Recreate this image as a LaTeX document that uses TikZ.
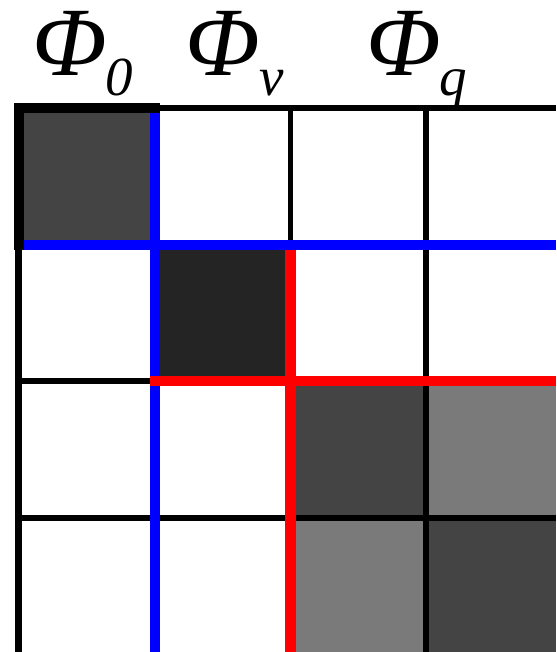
\documentclass[tikz,border=0pt]{standalone}
\usepackage{fontspec}
\setmainfont{Liberation Serif}
\usepackage{xcolor}
\usepackage{tikz}
\usetikzlibrary{positioning}
\definecolor{cellA}{HTML}{444444}
\definecolor{cellB}{HTML}{242424}
\definecolor{cellC}{HTML}{7A7A7A}
\definecolor{gridblue}{HTML}{0000FF}
\definecolor{gridred}{HTML}{FF0000}
\tikzset{
  thin/.style={draw=black, line width=6.5pt},
  heavy/.style={draw=black, line width=10pt, line join=miter},
  bl/.style={draw=gridblue, line width=10pt},
  rd/.style={draw=gridred, line width=10.5pt},
  phi/.style={inner sep=0pt, anchor=base, text height=0.62em, text depth=0pt,
              font=\fontsize{98}{102}\selectfont\itshape},
  subs/.style={inner sep=0pt, anchor=base, font=\fontsize{55}{60}\selectfont\itshape},
}
\begin{document}
\begin{tikzpicture}[x=1pt, y=-1pt]
  \useasboundingbox (0,0) rectangle (556,652);
  \clip (0,0) rectangle (556,652);

  % cellen
  \foreach \xa/\ya/\xb/\yb/\c in {19/108/155/245/cellA, 155/245/290.5/381/cellB,
      290.5/381/426/518/cellA, 426/381/556/518/cellC,
      290.5/518/426/652/cellC, 426/518/556/652/cellA}
    \fill[\c] (\xa,\ya) rectangle (\xb,\yb);

  % dunne rasterlijnen
  \draw[thin] (19,108) -- (556,108);
  \draw[thin] (19,381) -- (155,381);
  \draw[thin] (19,518) -- (556,518);
  \draw[thin, line width=5.5pt] (290.5,108) -- (290.5,245);
  \draw[thin, line width=5.5pt] (426,108) -- (426,652);
  \draw[thin, line width=7pt] (18.5,108) -- (18.5,652);

  % dikke rand linksboven
  \draw[heavy] (19,250) -- (19,108) -- (160,108);

  % blauw en rood
  \draw[bl] (24,245) -- (556,245);
  \draw[bl] (155,113) -- (155,652);
  \draw[rd] (150,381) -- (556,381);
  \draw[rd] (290.5,250) -- (290.5,652);

  % labels
  \node[phi]  (phi0) at (70,76)    {Φ};
  \node[subs] (sub0) at (119,96)   {0};
  \node[phi]  (phiv) at (223,76)   {Φ};
  \node[subs] (subv) at (272,96)   {v};
  \node[phi]  (phiq) at (404,76)   {Φ};
  \node[subs] (subq) at (453,96)   {q};
\end{tikzpicture}
\end{document}
